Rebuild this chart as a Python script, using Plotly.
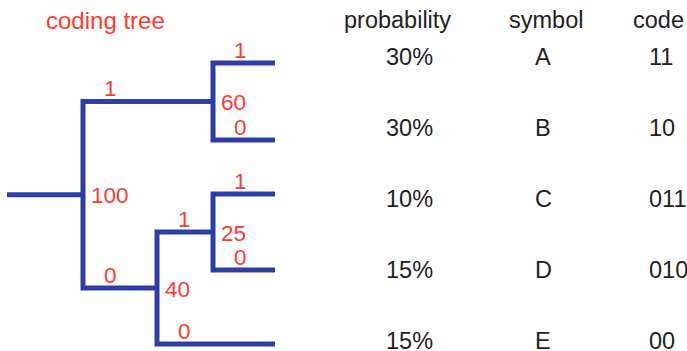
import plotly.graph_objects as go

# ---------------- data ----------------
symbols = ["A", "B", "C", "D", "E"]
probabilities = [30, 30, 10, 15, 15]          # percent
codes = ["11", "10", "011", "010", "00"]
headers = ["probability", "symbol", "code"]
title_text = "coding tree"

# internal nodes of the Huffman tree: weight and (upper child, lower child)
node_weights = [100, 60, 40, 25]
node_children = [("n60", "n40"), ("A", "B"), ("n25", "E"), ("C", "D")]
edge_bits = ["1", "0"]                        # upper branch, lower branch

# ---------------- layout (positions / styles) ----------------
W, H = 687, 351
BLUE = "#2d3fa6"
RED = "#ff3a30"
DARK = "#222222"
FONT = "Arial, 'Liberation Sans', sans-serif"
FS_TREE = 22.5
FS_TABLE = 23.5
FS_TITLE = 24

leaf_y = dict(zip(symbols, [63, 140, 194, 270, 344]))
node_x = {"n100": 83, "n60": 213, "n40": 157, "n25": 213}
leaf_x_end = 275
root_start_x = 7
row_y0, row_dy = 57, 71
header_y = 20
col_prob_left, col_sym_center, col_code_left = 385, 543, 648
header_centers = [397, 546, 658]

node_ids = ["n%d" % w for w in node_weights]
children = dict(zip(node_ids, node_children))
weights = dict(zip(node_ids, node_weights))

# node y = midpoint of its children (computed recursively)
def y_of(k):
    if k in leaf_y:
        return leaf_y[k]
    a, b = children[k]
    return (y_of(a) + y_of(b)) / 2

def x_of(k):
    return node_x.get(k, leaf_x_end)

xs, ys = [], []
ann = []
root = node_ids[0]
# root stub
xs += [root_start_x, node_x[root], None]
ys += [y_of(root), y_of(root), None]
for k in node_ids:
    up, lo = children[k]
    px, py = node_x[k], y_of(k)
    xs += [x_of(up), px, px, x_of(lo), None]
    ys += [y_of(up), y_of(up), y_of(lo), y_of(lo), None]
    for c, bit in zip((up, lo), edge_bits):
        ann.append(dict(x=px + 27, y=y_of(c) - 13, text=bit, xanchor="center",
                        yanchor="middle", font=dict(color=RED, size=FS_TREE, family=FONT)))
    ann.append(dict(x=px + 7, y=py + 1, text=str(weights[k]), xanchor="left",
                    yanchor="middle", font=dict(color=RED, size=FS_TREE, family=FONT)))

fig = go.Figure()
fig.add_trace(go.Scatter(x=xs, y=ys, mode="lines", hoverinfo="skip",
                         line=dict(color=BLUE, width=5), showlegend=False))

ann.append(dict(x=105, y=header_y, text=title_text, xanchor="center", yanchor="middle",
                font=dict(color=RED, size=FS_TITLE, family=FONT)))
for h, cx in zip(headers, header_centers):
    ann.append(dict(x=cx, y=header_y, text=h, xanchor="center", yanchor="middle",
                    font=dict(color=DARK, size=FS_TABLE, family=FONT)))
for i, (p, s, c) in enumerate(zip(probabilities, symbols, codes)):
    yy = row_y0 + row_dy * i
    ann.append(dict(x=col_prob_left, y=yy, text="%d%%" % p, xanchor="left", yanchor="middle",
                    font=dict(color=DARK, size=FS_TABLE, family=FONT)))
    ann.append(dict(x=col_sym_center, y=yy, text=s, xanchor="center", yanchor="middle",
                    font=dict(color=DARK, size=FS_TABLE, family=FONT)))
    ann.append(dict(x=col_code_left, y=yy, text=c, xanchor="left", yanchor="middle",
                    font=dict(color=DARK, size=FS_TABLE, family=FONT)))

for a in ann:
    a.update(xref="x", yref="y", showarrow=False, borderpad=0)

fig.update_layout(
    width=W, height=H, margin=dict(l=0, r=0, t=0, b=0),
    paper_bgcolor="white", plot_bgcolor="white",
    xaxis=dict(range=[0, W], visible=False, fixedrange=True),
    yaxis=dict(range=[H, 0], visible=False, fixedrange=True),
    annotations=ann,
)
fig.write_html("out.html", config={"displayModeBar": False},
               post_script="document.body.style.margin='0';document.body.style.overflow='hidden';")
